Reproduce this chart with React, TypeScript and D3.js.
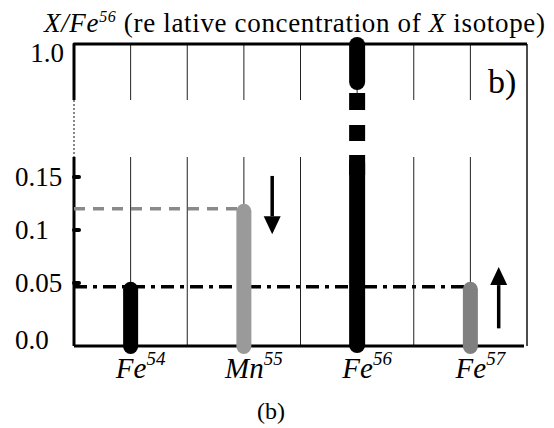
import React from 'react';
import * as d3 from 'd3';

const elements = ['Fe', 'Mn', 'Fe', 'Fe'];
const massNumbers = ['54', '55', '56', '57'];
const values = [0.047, 0.12, 1.0, 0.047];
const barColors = ['#000000', '#9a9a9a', '#000000', '#808080'];
const slots = [1, 3, 5, 7];
const lowerTicks = [0.15, 0.1, 0.05, 0.0];
const lowerTickLabels = ['0.15', '0.1', '0.05', '0.0'];
const upperTicks = [1.0];
const upperTickLabels = ['1.0'];
// reference levels: Mn55 (gray dashed) and Fe54/Fe57 (dash-dot)
const refLevels = [0.12, 0.047];
const refEndSlots = [3, 7];
// arrows: slot, from, to
const arrowSlots = [3.5, 7.5];
const arrowFrom = [0.151, 0.014];
const arrowTo = [0.096, 0.065];

export default function App() {
  const W = 554, H = 428;
  const x = d3.scaleLinear().domain([0, 8]).range([74, 527]);
  const yLow = d3.scaleLinear().domain([0, 0.05, 0.15]).range([346, 283, 177]);
  const yHigh = d3.scaleLinear().domain([0.9, 1.0]).range([100, 44]);
  const upperBottom = 100;
  const lowerTop = 157;
  const font = "'Liberation Serif', 'Times New Roman', serif";

  const grid = d3.range(1, 8);

  return (
    <svg width={W} height={H} style={{ position: 'absolute', left: 0, top: 0, display: 'block', background: '#fff' }}
      fontFamily={font}>
      {/* title */}
      <text x={44} y={32} fontSize={27} fill="#000" textLength={501} lengthAdjust="spacing">
        <tspan fontStyle="italic">X/Fe</tspan>
        <tspan fontStyle="italic" fontSize={16} dy={-10}>56</tspan>
        <tspan dy={10}> (re lative concentration of </tspan>
        <tspan fontStyle="italic">X</tspan>
        <tspan> isotope)</tspan>
      </text>

      {/* grid lines */}
      {grid.map(k => (
        <g key={k}>
          <line x1={x(k)} x2={x(k)} y1={yHigh(1)} y2={upperBottom} stroke="#222" strokeWidth={1} />
          <line x1={x(k)} x2={x(k)} y1={lowerTop} y2={yLow(0)} stroke="#222" strokeWidth={1} />
        </g>
      ))}

      {/* right border */}
      <line x1={x(8)} x2={x(8)} y1={yHigh(1)} y2={yLow(0)} stroke="#111" strokeWidth={1.5} />

      {/* top line + upper left axis */}
      <path d={`M${x(0)},${upperBottom} L${x(0)},${yHigh(1)} L${x(8)},${yHigh(1)}`} fill="none" stroke="#000" strokeWidth={3} strokeLinejoin="round" />
      {/* broken axis dotted segment */}
      <line x1={x(0)} x2={x(0)} y1={upperBottom} y2={lowerTop} stroke="#888" strokeWidth={2} strokeDasharray="2,2" />
      {/* lower left axis */}
      <line x1={x(0)} x2={x(0)} y1={lowerTop} y2={yLow(0)} stroke="#000" strokeWidth={3} />
      {/* bottom axis */}
      <line x1={x(0)} x2={x(8) - 3} y1={yLow(0)} y2={yLow(0)} stroke="#000" strokeWidth={3} />

      {/* ticks */}
      {lowerTicks.filter(t => t > 0).map(t => (
        <line key={t} x1={x(0)} x2={x(0) + 5} y1={yLow(t)} y2={yLow(t)} stroke="#000" strokeWidth={4} strokeLinecap="round" />
      ))}

      {/* tick labels */}
      {lowerTicks.map((t, i) => (
        <text key={t} x={15} y={t === 0 ? yLow(t) + 3 : yLow(t) + 9} fontSize={27} fill="#000">{lowerTickLabels[i]}</text>
      ))}
      {upperTicks.map((t, i) => (
        <text key={t} x={64} y={yHigh(t) + 18} fontSize={27} textAnchor="end" fill="#000">{upperTickLabels[i]}</text>
      ))}

      {/* reference lines */}
      <line x1={x(0)} x2={x(refEndSlots[0])} y1={yLow(refLevels[0])} y2={yLow(refLevels[0])} stroke="#8a8a8a" strokeWidth={3.5} strokeDasharray="11,8" />
      <line x1={x(0)} x2={x(refEndSlots[1])} y1={yLow(refLevels[1])} y2={yLow(refLevels[1])} stroke="#000" strokeWidth={3.5} strokeDasharray="13,6,4,6" />

      {/* bars */}
      {values.map((v, i) => {
        const cx = x(slots[i]);
        if (v <= 0.15) {
          const top = yLow(v) - 5;
          const bot = yLow(0) + 8;
          return <rect key={i} x={cx - 7.5} y={top} width={15} height={bot - top} rx={7.5} ry={7.5} fill={barColors[i]} />;
        }
        // broken bar (value in upper section)
        const w = 16;
        return (
          <g key={i} fill={barColors[i]}>
            <rect x={cx - w / 2} y={yHigh(v) - 7} width={w} height={90 - (yHigh(v) - 7)} rx={8} ry={8} />
            <rect x={cx - w / 2} y={93} width={w} height={17} />
            <rect x={cx - w / 2} y={125} width={w} height={16} />
            <rect x={cx - w / 2} y={155} width={w} height={yLow(0) + 7 - 155} rx={8} ry={8} />
            <rect x={cx - w / 2} y={155} width={w} height={20} />
          </g>
        );
      })}

      {/* arrows */}
      {arrowSlots.map((s, i) => {
        const ax = x(s);
        const y0 = yLow(arrowFrom[i]);
        const y1 = yLow(arrowTo[i]);
        const dir = y1 > y0 ? 1 : -1;
        const headLen = 18;
        const yBase = y1 - dir * headLen;
        return (
          <g key={i}>
            <line x1={ax} x2={ax} y1={y0} y2={yBase} stroke="#000" strokeWidth={3.5} />
            <path d={`M${ax - 8.5},${yBase} L${ax + 8.5},${yBase} L${ax},${y1} Z`} fill="#000" />
          </g>
        );
      })}

      {/* b) label */}
      <text x={488} y={93} fontSize={34} fill="#000">b)</text>

      {/* x labels */}
      {elements.map((e, i) => (
        <text key={i} x={x(slots[i]) + 10} y={378} fontSize={29} fontStyle="italic" textAnchor="middle" fill="#000">
          {e}
          <tspan fontSize={19} dy={-13}>{massNumbers[i]}</tspan>
        </text>
      ))}

      {/* caption */}
      <text x={271} y={419} fontSize={24} textAnchor="middle" fill="#000">(b)</text>
    </svg>
  );
}
